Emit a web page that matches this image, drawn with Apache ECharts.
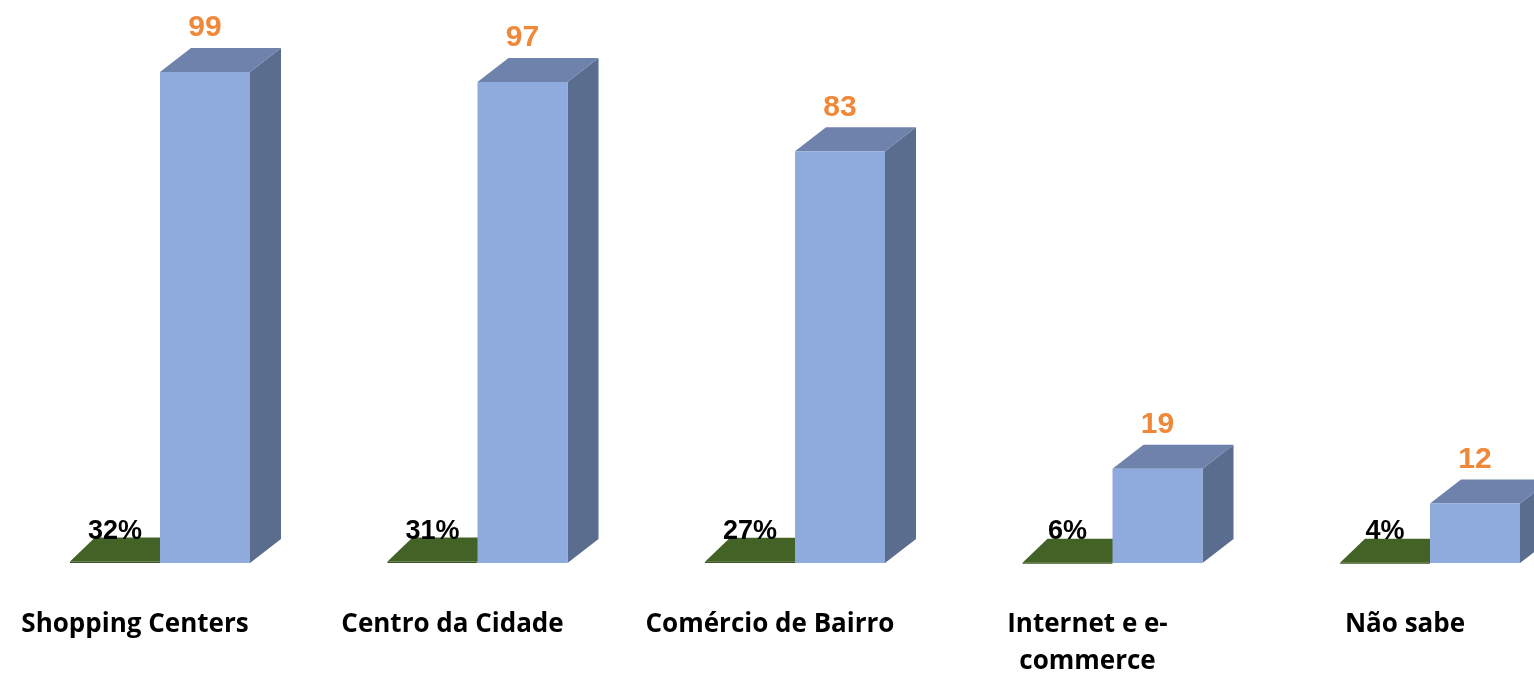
<!DOCTYPE html>
<html>
<head>
<meta charset="utf-8">
<script src="https://cdn.jsdelivr.net/npm/echarts@6/dist/echarts.min.js"></script>
<style>
html,body{margin:0;padding:0;background:#fff;}
#chart{width:1534px;height:673px;}
</style>
</head>
<body>
<div id="chart"></div>
<script>
const categories = ['Shopping Centers', 'Centro da Cidade', 'Comércio de Bairro', 'Internet e e-commerce', 'Não sabe'];
const counts = [99, 97, 83, 19, 12];
const percents = [32, 31, 27, 6, 4];

const chart = echarts.init(document.getElementById('chart'));

function dims(api) {
  const band = api.size([1, 0])[0];
  return { w: band * 90 / 317.5, dxB: band * 31 / 317.5, dxG: band * 25 / 317.5, dy: 24 };
}

const option = {
  animation: false,
  backgroundColor: '#ffffff',
  grid: { left: 1.25, width: 1587.5, top: 67, height: 496, outerBoundsMode: 'none', containLabel: false },
  xAxis: {
    type: 'category',
    data: categories,
    axisLine: { show: false },
    axisTick: { show: false },
    splitLine: { show: false },
    axisLabel: {
      interval: 0,
      margin: 43,
      color: '#000',
      fontFamily: 'Open Sans',
      fontWeight: 'bold',
      fontSize: 26,
      lineHeight: 37,
      padding: [0, 50, 0, 0],
      formatter: function (v) { return v.replace('e e-', 'e e-\n'); }
    }
  },
  yAxis: { type: 'value', min: 0, max: 100, show: false },
  series: [
    {
      name: 'Percentual',
      type: 'custom',
      data: percents.map(function (p, i) { return [i, p / 100, p]; }),
      renderItem: function (params, api) {
        const d = dims(api);
        const base = api.coord([api.value(0), 0]);
        const top = api.coord([api.value(0), api.value(1)]);
        const c = base[0];
        const x0 = c - d.w;
        return {
          type: 'group',
          children: [
            { type: 'polygon', shape: { points: [[x0, top[1]], [x0 + d.dxG, top[1] - d.dy], [c + d.dxG, top[1] - d.dy], [c, top[1]]] }, style: { fill: '#436326' } },
            { type: 'rect', shape: { x: x0, y: top[1], width: d.w, height: Math.max(base[1] - top[1], 1) }, style: { fill: '#3A5621' } },
            { type: 'text', z2: 10, style: { text: api.value(2) + '%', x: c - d.w / 2, y: base[1] - 31, align: 'center', verticalAlign: 'middle', fontFamily: 'Liberation Sans', fontWeight: 'bold', fontSize: 27, fill: '#000000' } }
          ]
        };
      }
    },
    {
      name: 'Quantidade',
      type: 'custom',
      data: counts.map(function (v, i) { return [i, v]; }),
      renderItem: function (params, api) {
        const d = dims(api);
        const base = api.coord([api.value(0), 0]);
        const top = api.coord([api.value(0), api.value(1)]);
        const c = base[0];
        const yt = top[1], yb = base[1];
        return {
          type: 'group',
          children: [
            { type: 'polygon', shape: { points: [[c + d.w, yt], [c + d.w + d.dxB, yt - d.dy], [c + d.w + d.dxB, yb - d.dy], [c + d.w, yb]] }, style: { fill: '#5A6D8F' } },
            { type: 'polygon', shape: { points: [[c, yt], [c + d.dxB, yt - d.dy], [c + d.w + d.dxB, yt - d.dy], [c + d.w, yt]] }, style: { fill: '#6E82AC' } },
            { type: 'rect', shape: { x: c, y: yt, width: d.w, height: yb - yt }, style: { fill: '#8FABDD' } },
            { type: 'text', z2: 10, style: { text: String(api.value(1)), x: c + d.w / 2, y: yt - 44, align: 'center', verticalAlign: 'middle', fontFamily: 'Liberation Sans', fontWeight: 'bold', fontSize: 30, fill: '#F0883A' } }
          ]
        };
      }
    }
  ]
};
chart.setOption(option);
</script>
</body>
</html>
